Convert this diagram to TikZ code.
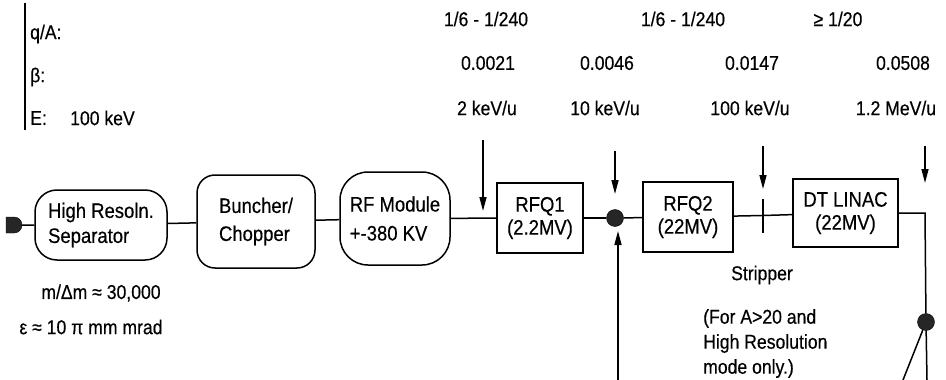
\documentclass[tikz,border=0pt]{standalone}
\usepackage{fontspec}
\setmainfont{Liberation Sans}[FakeStretch=0.88,FakeBold=0.4]
\usetikzlibrary{arrows.meta,shapes.misc}
\begin{document}
\begin{tikzpicture}[x=1pt,y=-1pt,
  lw/.style={line width=1.5pt},
  blk/.style={draw,lw,inner sep=0pt,font=\fontsize{21}{25}\selectfont},
  rbox/.style={blk,rounded corners=#1},
  lab/.style={font=\fontsize{20}{20}\selectfont,inner sep=0pt},
  arr/.style={lw,-{Triangle[length=14pt,width=7pt]}},
  beamdot/.style={circle,fill=black!85,draw=black,minimum size=17pt,inner sep=0pt},
]
\useasboundingbox (0,0) rectangle (946,380);

% header bar and labels
\coordinate (bar1) at (25,3);
\coordinate (bar2) at (25,130);
\draw[lw] (bar1) -- (bar2);
\node[lab,anchor=west] (lqa) at (30,34) {q/A:};
\node[lab,anchor=west] (lbeta) at (30,77) {β:};
\node[lab,anchor=west] (lE) at (30,118) {E:};
\node[lab,anchor=west] (lE0) at (70,118) {100 keV};

\node[lab] (qa1) at (486,19) {1/6 - 1/240};
\node[lab] (qa2) at (683,19) {1/6 - 1/240};
\node[lab] (qa3) at (838,19) {≥ 1/20};

\node[lab] (b1) at (488,63) {0.0021};
\node[lab] (b2) at (607,63) {0.0046};
\node[lab] (b3) at (752,63) {0.0147};
\node[lab] (b4) at (903,63) {0.0508};

\node[lab] (e1) at (487,108) {2 keV/u};
\node[lab] (e2) at (605,108) {10 keV/u};
\node[lab] (e3) at (750,108) {100 keV/u};
\node[lab] (e4) at (896,108) {1.2 MeV/u};

% beam line elements
\node[fill=black!85,draw,rounded rectangle,rounded rectangle left arc=none,
      minimum width=12pt,minimum height=16pt,inner sep=0pt] (src) at (14,225) {};
\node[rbox=22pt,minimum width=132pt,minimum height=70pt,align=left] (sep) at (101,225) {High Resoln.\\Separator};
\node[rbox=18pt,minimum width=118pt,minimum height=93pt,align=left,
      font=\fontsize{21}{28}\selectfont] (bun) at (256,221.5) {Buncher/\\Chopper};
\node[rbox=28pt,minimum width=110pt,minimum height=93pt,align=left,
      font=\fontsize{21}{29}\selectfont] (rf) at (395,218.5) {RF Module\\+-380 KV};
\node[blk,minimum width=86pt,minimum height=70pt,align=center,
      font=\fontsize{21}{23}\selectfont] (rfq1) at (540,218) {RFQ1\\(2.2MV)};
\node[beamdot] (d1) at (615,218) {};
\node[blk,minimum width=90pt,minimum height=70pt,align=center,
      font=\fontsize{21}{23}\selectfont] (rfq2) at (688,217) {RFQ2\\(22MV)};
\coordinate (strip) at (763,215.5);
\coordinate (st1) at (763,199);
\coordinate (st2) at (763,233);
\node[blk,minimum width=105pt,minimum height=68pt,align=center,
      font=\fontsize{21}{23}\selectfont] (dt) at (845.5,213) {DT LINAC\\(22MV)};
\coordinate (corner) at (925,213);
\node[beamdot] (d2) at (926,322) {};
\coordinate (bot) at (927,380);
\coordinate (diag) at (903,380);

\draw[lw] (src) -- (sep);
\draw[lw] (sep) -- (bun);
\draw[lw] (bun) -- (rf);
\draw[lw] (rf) -- (rfq1);
\draw[lw] (rfq1) -- (d1);
\draw[lw] (d1) -- (rfq2);
\draw[lw] (rfq2) -- (strip) -- (dt);
\draw[lw] (st1) -- (st2);
\draw[lw] (dt.east) -- (corner) -- (d2) -- (bot);
\draw[lw] (d2) -- (diag);

% arrows
\coordinate (a1s) at (483,140);
\coordinate (a1e) at (483,211);
\coordinate (a2s) at (615,151);
\coordinate (a2e) at (615,194);
\coordinate (a3s) at (763,146);
\coordinate (a3e) at (763,189);
\coordinate (a4s) at (925,146);
\coordinate (a4e) at (925,183);
\coordinate (a5s) at (618,380);
\coordinate (a5e) at (618,231);
\draw[arr] (a1s) -- (a1e);
\draw[arr] (a2s) -- (a2e);
\draw[arr] (a3s) -- (a3e);
\draw[arr] (a4s) -- (a4e);
\draw[arr] (a5s) -- (a5e);

% lower texts
\node[lab] (mres) at (101,293) {m/Δm ≈ 30,000};
\node[lab] (emit) at (91,327) {ε ≈ 10 π mm mrad};
\node[lab] (stripper) at (762,275) {Stripper};
\node[lab,anchor=north west,align=left,font=\fontsize{20}{25}\selectfont] (note) at (703,309)
  {(For A>20 and\\High Resolution\\mode only.)};
\end{tikzpicture}
\end{document}
